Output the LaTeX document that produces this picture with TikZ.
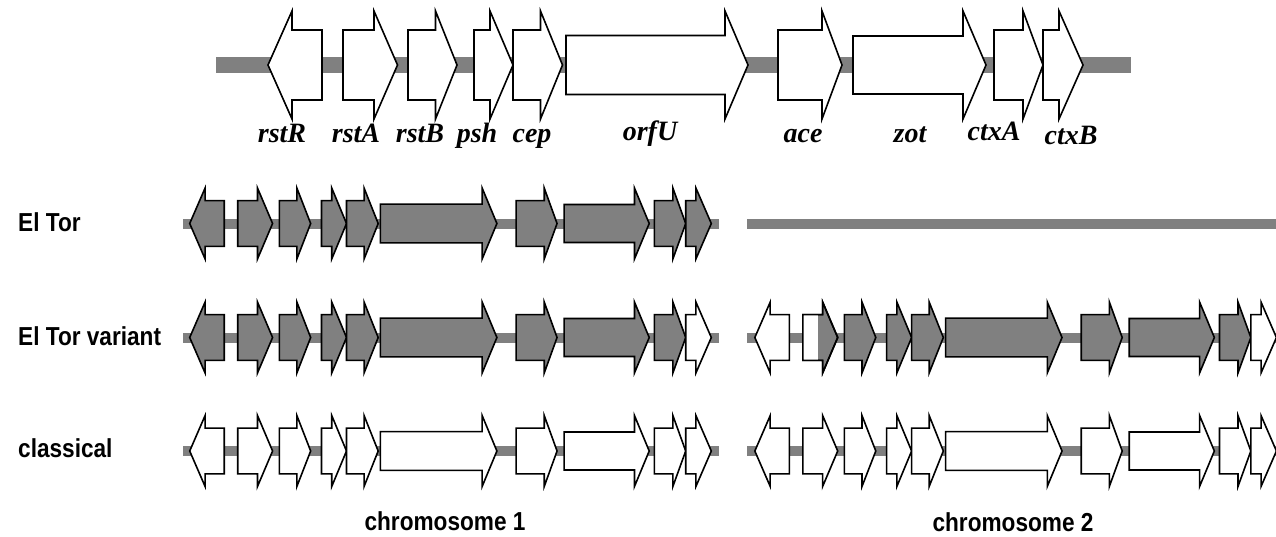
\documentclass[tikz,border=0pt]{standalone}
\usepackage{fontspec}
\setmainfont{Liberation Serif}
\newfontfamily\lblfont[FakeStretch=0.87]{Liberation Sans}
\definecolor{genegray}{RGB}{128,128,128}
\tikzset{
  genebox/.style={draw=black, line width=1.6pt, line join=miter},
  wgene/.style={genebox, fill=white},
  ggene/.style={genebox, fill=genegray},
  gs1/.style={wgene}, gs2/.style={wgene}, gs3/.style={wgene}, gs4/.style={wgene},
  gs5/.style={wgene}, gs6/.style={wgene}, gs7/.style={wgene}, gs8/.style={wgene},
  gs9/.style={wgene}, gs10/.style={wgene},
  allgray/.style={gs1/.style={ggene}, gs2/.style={ggene}, gs3/.style={ggene},
    gs4/.style={ggene}, gs5/.style={ggene}, gs6/.style={ggene}, gs7/.style={ggene},
    gs8/.style={ggene}, gs9/.style={ggene}, gs10/.style={ggene}},
  chrbar/.style={fill=genegray, draw=none},
  glabel/.style={font=\fontsize{28}{32}\selectfont\bfseries\itshape, anchor=base, inner sep=0pt},
  rowlabel/.style={font=\lblfont\bfseries\fontsize{26}{30}\selectfont, anchor=base west, inner sep=0pt},
  chrlabel/.style={font=\lblfont\bfseries\fontsize{26}{30}\selectfont, anchor=base, inner sep=0pt},
  lowrow/.style={xscale=0.64, yscale=0.655}
}
% right-pointing gene: style, body start, head base, tip, body half-height
\newcommand\geneR[5]{\path[#1] (#2,-#5) -- (#3,-#5) -- (#3,-54) -- (#4,0) -- (#3,54) -- (#3,#5) -- (#2,#5) -- cycle;}
% left-pointing gene: style, tip, head base, body end, body half-height
\newcommand\geneL[5]{\path[#1] (#4,-#5) -- (#3,-#5) -- (#3,-54) -- (#2,0) -- (#3,54) -- (#3,#5) -- (#4,#5) -- cycle;}
\newcommand\ctxcluster{%
  \geneL{gs1}{268}{292}{322}{35}
  \geneR{gs2}{343}{374}{397.5}{35}
  \geneR{gs3}{408}{435.5}{457}{35}
  \geneR{gs4}{474}{490}{513}{35}
  \geneR{gs5}{513}{540.5}{562.5}{35}
  \geneR{gs6}{566}{725}{748}{29.5}
  \geneR{gs7}{778}{822}{842}{35}
  \geneR{gs8}{853}{963}{986}{29}
  \geneR{gs9}{994}{1023}{1043}{35}
  \geneR{gs10}{1043}{1059}{1083}{35}
}
\begin{document}
\begin{tikzpicture}[x=1pt,y=-1pt]
\useasboundingbox (0,0) rectangle (1276,536);
% ---------- top (reference) map ----------
\fill[chrbar] (216,57) rectangle (1131,73);
\begin{scope}[shift={(0,65)}]
  \ctxcluster
\end{scope}
\node[glabel] (l-rstR) at (282,142) {rstR};
\node[glabel] (l-rstA) at (356,142) {rstA};
\node[glabel] (l-rstB) at (420,142) {rstB};
\node[glabel] (l-psh)  at (477,142) {psh};
\node[glabel] (l-cep)  at (532,142) {cep};
\node[glabel] (l-orfU) at (650,140) {orfU};
\node[glabel] (l-ace)  at (803,142) {ace};
\node[glabel] (l-zot)  at (910,142) {zot};
\node[glabel] (l-ctxA) at (994,140) {ctxA};
\node[glabel] (l-ctxB) at (1071,144) {ctxB};
% ---------- bars of the lower rows ----------
\fill[chrbar] (182.6,219) rectangle (718.7,229);
\fill[chrbar] (747,219) rectangle (1276,229);
\fill[chrbar] (182.6,333) rectangle (718.7,343);
\fill[chrbar] (747,333) rectangle (1276,343);
\fill[chrbar] (182.6,446) rectangle (718.7,456);
\fill[chrbar] (747,446) rectangle (1276,456);
% ---------- El Tor ----------
\begin{scope}[shift={(18.18,223.5)}, lowrow, allgray]
  \ctxcluster
\end{scope}
% ---------- El Tor variant ----------
\begin{scope}[shift={(18.18,337.5)}, lowrow, allgray, gs10/.style={wgene}]
  \ctxcluster
\end{scope}
\begin{scope}[shift={(583.3,337.5)}, lowrow, allgray, gs1/.style={wgene}, gs10/.style={wgene}]
  \ctxcluster
  \fill[white] (343,-35) rectangle (366,35);
  \geneR{genebox}{343}{374}{397.5}{35}
\end{scope}
% ---------- classical ----------
\begin{scope}[shift={(18.18,451)}, lowrow]
  \ctxcluster
\end{scope}
\begin{scope}[shift={(583.3,451)}, lowrow]
  \ctxcluster
\end{scope}
% ---------- labels ----------
\node[rowlabel] (r-eltor) at (18,231) {El Tor};
\node[rowlabel] (r-variant) at (18,345) {El Tor variant};
\node[rowlabel] (r-classical) at (18,457) {classical};
\node[chrlabel] (chr1) at (445,530) {chromosome 1};
\node[chrlabel] (chr2) at (1013,531) {chromosome 2};
\end{tikzpicture}
\end{document}
